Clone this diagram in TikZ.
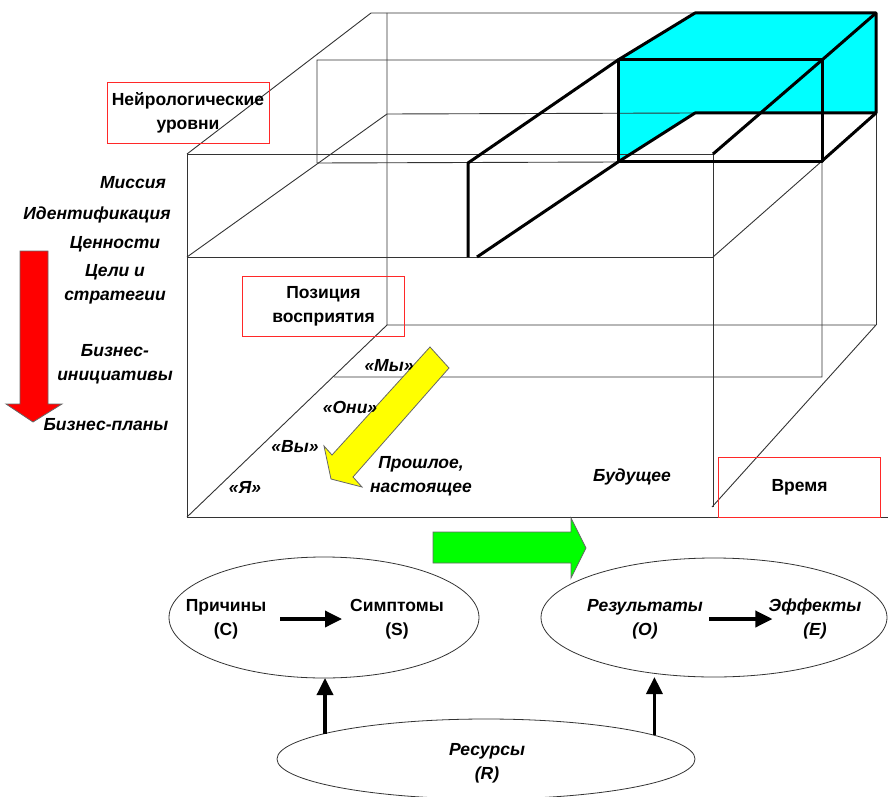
\documentclass[tikz,border=0pt]{standalone}
\usepackage{fontspec}
\setmainfont{Liberation Sans}
\usetikzlibrary{shapes.geometric,arrows.meta}
\definecolor{slabfill}{RGB}{0,255,255}
\definecolor{boxred}{RGB}{255,40,40}
\definecolor{arrowred}{RGB}{255,0,0}
\definecolor{arrowyellow}{RGB}{255,255,0}
\definecolor{arrowgreen}{RGB}{0,255,0}

\begin{document}
\begin{tikzpicture}[x=1pt,y=-1pt,
    every node/.style={font=\fontsize{17.5}{24}\selectfont\bfseries,align=center,inner sep=0pt},
    lvl/.style={font=\fontsize{17.5}{24}\selectfont\bfseries\itshape},
    redbox/.style={draw=boxred,line width=1pt,minimum width=162,minimum height=60},
    oval/.style={ellipse,draw=black!80,line width=0.8pt,minimum width=#1,outer sep=0pt},
    edge/.style={draw=black!80,line width=0.9pt},
    slab/.style={draw=black,line width=3pt,line join=round},
    conn/.style={line width=3.5pt,-{Triangle[length=17pt,width=16pt]}},
    bigarrow/.style={draw=black!60,line width=0.8pt,line join=miter}]
    \useasboundingbox (0,0) rectangle (888,797);

    % cube
    \fill[slabfill] (618,60) -- (695,13) -- (876,13) -- (876,113) -- (695,113) -- (618,162) -- cycle;
    \draw[edge] (187,154) -- (713,154) -- (713,507);
    \draw[edge] (187,154) -- (187,517) -- (888,517);
    \draw[edge] (187,257) -- (713,257);
    \draw[edge] (187,154) -- (371,13) -- (695,13);
    \draw[edge] (387,13) -- (387,325) -- (876,325) -- (712,507);
    \draw[edge] (876,113) -- (876,325);
    \draw[edge] (187,257) -- (387,114) -- (695,113);
    \draw[edge] (618,60) -- (317,60) -- (317,163) -- (618,162);
    \draw[edge] (713,257) -- (822,161) -- (822,377) -- (334,377);
    \draw[edge] (387,325) -- (187,517);

    \draw[slab] (618,60) -- (695,13) -- (876,13) -- (876,113) -- (695,113) -- (618,162);
    \draw[slab] (618,60) rectangle (822,161);
    \draw[slab] (822,60) -- (876,13);
    \draw[slab] (822,161) -- (876,113);
    \draw[slab] (822,60) -- (713,154);
    \draw[slab] (618,60) -- (468,163) -- (468,257);
    \draw[slab] (618,162) -- (477,257);

    % big arrows
    \draw[bigarrow,fill=arrowred] (20,251) -- (48,251) -- (48,404) -- (62,404) -- (33,422) -- (6,404) -- (20,404) -- cycle;
    \draw[bigarrow,fill=arrowyellow] (430,347) -- (449,368) -- (353,477) -- (362,487) -- (331,479) -- (324,446) -- (332,455) -- cycle;
    \draw[bigarrow,fill=arrowgreen] (433,532) -- (571,532) -- (571,518) -- (586,548) -- (571,578) -- (571,563) -- (433,563) -- cycle;

    % boxes
    \node[redbox] (neuro) at (188,113) {Нейрологические\\уровни};
    \node[redbox] (percept) at (323.5,306) {Позиция\\восприятия};
    \node[redbox] (timebox) at (799.5,487) {Время};

    % levels
    \node[lvl] (mission) at (133,183) {Миссия};
    \node[lvl] (ident) at (97,215) {Идентификация};
    \node[lvl] (values) at (115,244) {Ценности};
    \node[lvl] (goals) at (115,284) {Цели и\\стратегии};
    \node[lvl] (initiat) at (115,364) {Бизнес-\\инициативы};
    \node[lvl] (plans) at (106,425) {Бизнес-планы};

    % positions
    \node[lvl] (we) at (389,366) {«Мы»};
    \node[lvl] (they) at (350,407) {«Они»};
    \node[lvl] (you) at (295,447) {«Вы»};
    \node[lvl] (me) at (245,487) {«Я»};
    \node[lvl] (past) at (421,476) {Прошлое,\\настоящее};
    \node[lvl] (future) at (632,477) {Будущее};

    % ellipses
    \node[oval=310,minimum height=121] (causeell) at (324,617.5) {};
    \node[oval=346,minimum height=119] (effell) at (714,617.5) {};
    \node[oval=418,minimum height=80] (resell) at (486,759) {};

    \node (cause) at (226,619) {Причины\\(C)};
    \node (symp) at (397,619) {Симптомы\\(S)};
    \node[lvl] (outc) at (645,619) {Результаты\\(O)};
    \node[lvl] (effc) at (815,619) {Эффекты\\(E)};
    \node[lvl] (resc) at (487,763) {Ресурсы\\(R)};

    \draw[conn,shorten <=14pt,shorten >=8pt] (cause.east) -- (symp.west);
    \draw[conn,shorten <=6pt,shorten >=-4pt] (outc.east) -- (effc.west);
    \draw[conn] (resell.171) -- (resell.171 |- causeell.south);
    \draw[conn] (resell.8) -- (resell.8 |- effell.south);
\end{tikzpicture}
\end{document}
